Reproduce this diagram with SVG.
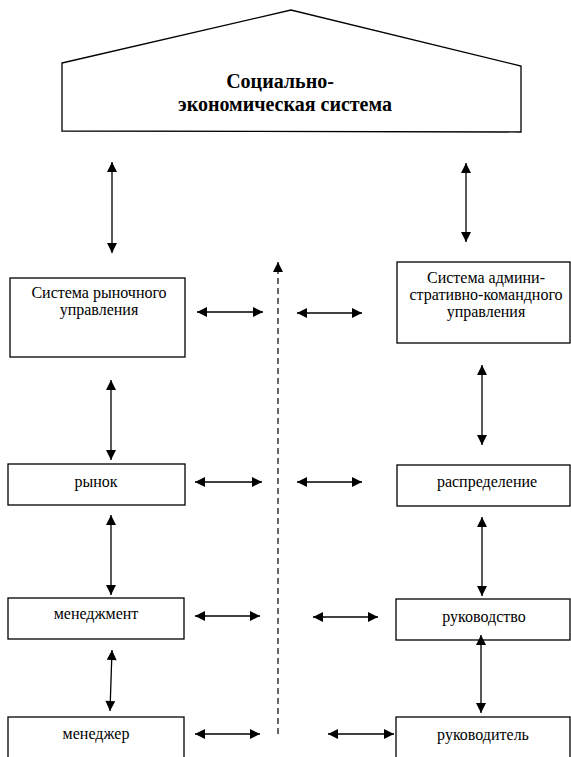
<svg xmlns="http://www.w3.org/2000/svg" width="571" height="757" viewBox="0 0 571 757">
<defs>
<marker id="ah" viewBox="0 0 10 10" refX="10" refY="5" markerWidth="12" markerHeight="10" markerUnits="userSpaceOnUse" orient="auto-start-reverse">
<path d="M0,0 L10,5 L0,10 z" fill="#000"/>
</marker>
<style>
.box{fill:#fff;stroke:#000;stroke-width:1.3}
.t{font-family:'Liberation Serif','DejaVu Serif',serif;font-size:16px;fill:#000;text-anchor:middle}
.title{font-family:'Liberation Serif','DejaVu Serif',serif;font-size:20px;font-weight:bold;fill:#000;text-anchor:middle}
.c{stroke:#000;stroke-width:1.3;fill:none;marker-start:url(#ah);marker-end:url(#ah)}
.d{stroke:#000;stroke-width:1.2;fill:none;stroke-dasharray:6 4;marker-end:url(#ah)}
</style>
</defs>
<rect width="571" height="757" fill="#fff"/>
<g id="n-ses">
<polygon class="box" points="62,63 291,10 521,66 521,132 62,131"/>
<text class="title" x="280" y="88">Социально-</text>
<text class="title" x="285" y="111">экономическая система</text>
</g>
<g id="n-market-sys">
<rect class="box" x="10" y="278" width="175" height="79"/>
<text class="t" x="99" y="298">Система рыночного</text>
<text class="t" x="99" y="315">управления</text>
</g>
<g id="n-admin-sys">
<rect class="box" x="397" y="262" width="173" height="81"/>
<text class="t" x="486" y="283">Система админи-</text>
<text class="t" x="486" y="300">стративно-командного</text>
<text class="t" x="486" y="317">управления</text>
</g>
<g id="n-market">
<rect class="box" x="8" y="464" width="177" height="41"/>
<text class="t" x="96" y="487">рынок</text>
</g>
<g id="n-distribution">
<rect class="box" x="397" y="465" width="173" height="41"/>
<text class="t" x="487" y="487">распределение</text>
</g>
<g id="n-management">
<rect class="box" x="8" y="598" width="176" height="41"/>
<text class="t" x="96" y="619">менеджмент</text>
</g>
<g id="n-leadership">
<rect class="box" x="396" y="599" width="174" height="41"/>
<text class="t" x="484" y="622">руководство</text>
</g>
<g id="n-manager">
<rect class="box" x="8" y="717" width="176" height="45"/>
<text class="t" x="96" y="739">менеджер</text>
</g>
<g id="n-leader">
<rect class="box" x="396" y="717" width="174" height="45"/>
<text class="t" x="483" y="740">руководитель</text>
</g>
<g id="connectors">
<line class="c" x1="112" y1="162" x2="112" y2="253"/>
<line class="c" x1="466" y1="163" x2="466" y2="242"/>
<line class="c" x1="111" y1="380" x2="111" y2="460"/>
<line class="c" x1="482" y1="365" x2="482" y2="445"/>
<line class="c" x1="111" y1="515" x2="111" y2="595"/>
<line class="c" x1="482" y1="517" x2="482" y2="596"/>
<line class="c" x1="112" y1="650" x2="110" y2="711"/>
<line class="c" x1="481" y1="635" x2="481" y2="713"/>
<line class="c" x1="197" y1="312" x2="263" y2="312"/>
<line class="c" x1="297" y1="313" x2="362" y2="313"/>
<line class="c" x1="195" y1="482" x2="262" y2="482"/>
<line class="c" x1="297" y1="482" x2="362" y2="482"/>
<line class="c" x1="195" y1="616" x2="260" y2="616"/>
<line class="c" x1="313" y1="617" x2="378" y2="617"/>
<line class="c" x1="195" y1="734" x2="260" y2="734"/>
<line class="c" x1="328" y1="734" x2="394" y2="734"/>
<line class="d" x1="278" y1="734" x2="278" y2="262"/>
</g>
</svg>
